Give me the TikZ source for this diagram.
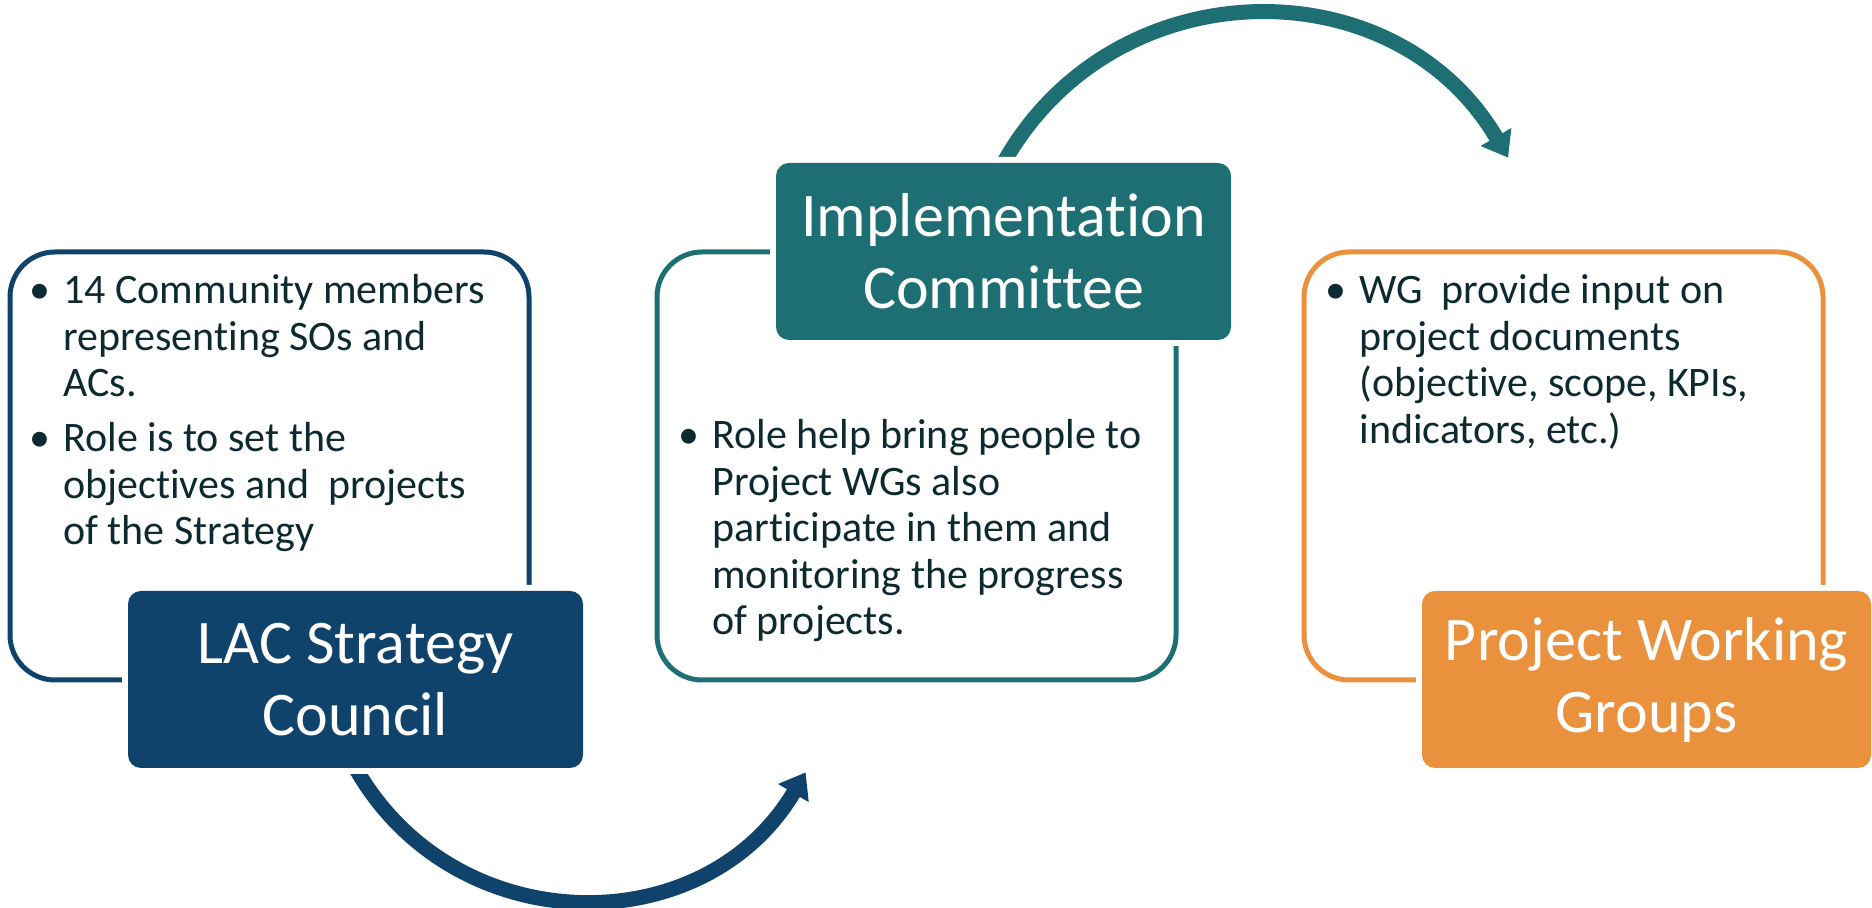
\documentclass[tikz,border=0pt]{standalone}
\usepackage{fontspec}
\setmainfont{Carlito}[Ligatures={NoCommon}]
\usetikzlibrary{arrows.meta, positioning, backgrounds}

\definecolor{lacblue}{HTML}{10436C}
\definecolor{lacteal}{HTML}{1E6F73}
\definecolor{lacorange}{HTML}{E9913C}
\definecolor{bodyink}{HTML}{0E2A31}

\newcommand{\bpoint}{\makebox[17pt][l]{\textbullet}}
\newcommand{\bgap}{\hspace*{17pt}}

\begin{document}
\begin{tikzpicture}[
  x=0.5pt, y=0.5pt,
  panel/.style={draw, line width=2.5pt, rounded corners=22.5pt, fill=white, outer sep=0pt,
    minimum width=259.5pt, minimum height=214pt},
  title/.style={rounded corners=6.5pt, text=white, align=center, inner sep=0pt, outer sep=0pt,
    minimum width=227.5pt, minimum height=88.5pt, font=\fontsize{31}{36}\selectfont,
    preaction={draw=white, line width=6pt}},
  bodytext/.style={align=left, inner sep=0pt, text=bodyink, font=\fontsize{21}{23.25}\selectfont},
  flow/.style={line width=7.5pt, -{Triangle[length=12pt, width=17pt]}}
]
\useasboundingbox (0,0) rectangle (1872,908);

% Panels
\node[panel, draw=lacblue] (council_box) at (269.5,442) {};
\node[panel, draw=lacteal, right=64pt of council_box] (committee_box) {};
\node[panel, draw=lacorange, right=64pt of committee_box] (groups_box) {};

% Titles
\node[title, fill=lacblue, anchor=north west] (council) at ([xshift=59pt, yshift=44.5pt]council_box.south west) {LAC Strategy\\Council};
\node[title, fill=lacteal, anchor=south west] (committee) at ([xshift=59.5pt, yshift=-44pt]committee_box.north west) {Implementation\\Committee};
\node[title, fill=lacorange, anchor=north west, minimum width=224.5pt] (groups) at ([xshift=59pt, yshift=44.5pt]groups_box.south west) {Project Working\\Groups};

% Bullet texts (base = last line)
\node[bodytext, anchor=base west] (council_text) at ([xshift=9.5pt, yshift=-146.5pt]council_box.north west)
  {\bpoint 14 Community members\\ \bgap representing SOs and\\ \bgap ACs.\\[4.25pt]
   \bpoint Role is to set the\\ \bgap objectives and~~projects\\ \bgap of the Strategy};
\node[bodytext, anchor=base west] (committee_text) at ([xshift=10.5pt, yshift=-191.5pt]committee_box.north west)
  {\bpoint Role help bring people to\\ \bgap Project WGs also\\ \bgap participate in them and\\ \bgap monitoring the progress\\ \bgap of projects.};
\node[bodytext, anchor=base west] (groups_text) at ([xshift=10.5pt, yshift=-95.75pt]groups_box.north west)
  {\bpoint WG~~provide input on\\ \bgap project documents\\ \bgap (objective, scope, KPIs,\\ \bgap indicators, etc.)};

% Arrows
\coordinate (to_committee) at (805.6,135.6);
\coordinate (to_groups) at (1508.1,750.3);
\begin{scope}[on background layer]
\draw[flow, lacblue] (council.south) to[out=-60.5, in=239.4, looseness=1.135] (to_committee);
\draw[flow, lacteal] (committee.north) to[out=60.8, in=120.4, looseness=1.137] (to_groups);
\end{scope}

\end{tikzpicture}
\end{document}
